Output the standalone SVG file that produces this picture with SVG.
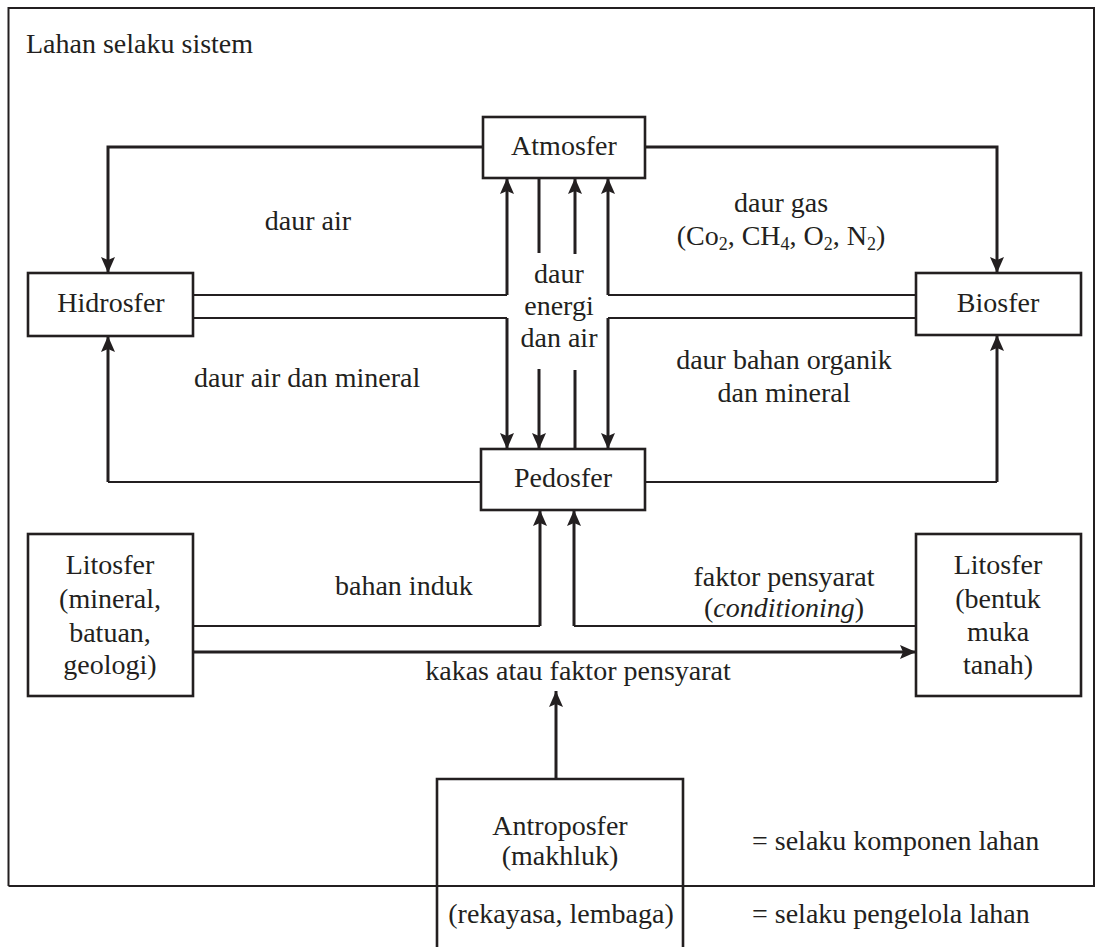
<svg xmlns="http://www.w3.org/2000/svg" width="1096" height="947" viewBox="0 0 1096 947">
<style>
text{font-family:"Liberation Serif","Times New Roman",serif;font-size:28px;fill:#231f20}
.c{text-anchor:middle}
.box{fill:#fff;stroke:#231f20;stroke-width:2.6}
.ln{fill:none;stroke:#231f20;stroke-width:2.2}
.ar{fill:none;stroke:#231f20;stroke-width:3;marker-end:url(#ah)}
</style>
<defs>
<marker id="ah" markerUnits="userSpaceOnUse" markerWidth="16" markerHeight="16" viewBox="0 0 16 14" refX="16" refY="7" orient="auto">
<path d="M0,0 L16,7 L0,14 L3,7 Z" fill="#231f20"/>
</marker>
</defs>
<rect x="0" y="0" width="1096" height="947" fill="#fff"/>
<g id="frame">
<path d="M8.5,886 V8 H1094 V886 H8.5" fill="none" stroke="#231f20" stroke-width="2"/>
<text x="26" y="53">Lahan selaku sistem</text>
</g>
<g id="connectors">
<polyline class="ar" points="483,147 108,147 108,273"/>
<polyline class="ar" points="645,147 997,147 997,273"/>
<polyline class="ln" points="193,295 507,295"/>
<polyline class="ar" points="507,295 507,178"/>
<polyline class="ln" points="193,318 507,318"/>
<polyline class="ar" points="507,318 507,449"/>
<polyline class="ln" points="916,295 608,295"/>
<polyline class="ar" points="608,295 608,178"/>
<polyline class="ln" points="916,318 608,318"/>
<polyline class="ar" points="608,318 608,449"/>
<line class="ln" x1="539" y1="178" x2="539" y2="253" style="stroke-width:3"/>
<polyline class="ar" points="539,369 539,449"/>
<line class="ln" x1="575" y1="449" x2="575" y2="370" style="stroke-width:3"/>
<polyline class="ar" points="575,254 575,178"/>
<polyline class="ln" points="481,482 108,482"/>
<polyline class="ar" points="108,482 108,336"/>
<polyline class="ln" points="645,482 997,482"/>
<polyline class="ar" points="997,482 997,335"/>
<polyline class="ln" points="193,626 540,626"/>
<polyline class="ar" points="540,626 540,510"/>
<polyline class="ln" points="916,626 574,626"/>
<polyline class="ar" points="574,626 574,510"/>
<polyline class="ar" points="193,652 916,652"/>
<polyline class="ar" points="556,779 556,691"/>
</g>
<g id="labels">
<text class="c" x="308" y="230">daur air</text>
<text class="c" x="781" y="212">daur gas</text>
<text class="c" x="781" y="245">(Co<tspan font-size="18" dy="5">2</tspan><tspan dy="-5">, CH</tspan><tspan font-size="18" dy="5">4</tspan><tspan dy="-5">, O</tspan><tspan font-size="18" dy="5">2</tspan><tspan dy="-5">, N</tspan><tspan font-size="18" dy="5">2</tspan><tspan dy="-5">)</tspan></text>
<text class="c" x="559" y="283">daur</text>
<text class="c" x="559" y="315">energi</text>
<text class="c" x="559" y="347">dan air</text>
<text x="194" y="387">daur air dan mineral</text>
<text class="c" x="784" y="369">daur bahan organik</text>
<text class="c" x="784" y="402">dan mineral</text>
<text x="335" y="595">bahan induk</text>
<text class="c" x="784" y="586">faktor pensyarat</text>
<text class="c" x="784" y="617">(<tspan font-style="italic">conditioning</tspan>)</text>
<text class="c" x="578" y="680">kakas atau faktor pensyarat</text>
<text x="752" y="850">= selaku komponen lahan</text>
<text x="752" y="923">= selaku pengelola lahan</text>
</g>
<g id="atmosfer">
<rect class="box" x="483" y="117" width="162" height="61"/>
<text class="c" x="564" y="155">Atmosfer</text>
</g>
<g id="hidrosfer">
<rect class="box" x="28" y="273" width="165" height="63"/>
<text class="c" x="111" y="312">Hidrosfer</text>
</g>
<g id="biosfer">
<rect class="box" x="916" y="273" width="165" height="62"/>
<text class="c" x="998" y="312">Biosfer</text>
</g>
<g id="pedosfer">
<rect class="box" x="481" y="449" width="164" height="61"/>
<text class="c" x="563" y="487">Pedosfer</text>
</g>
<g id="litosfer-kiri">
<rect class="box" x="28" y="534" width="165" height="162"/>
<text class="c" x="110" y="574">Litosfer</text>
<text class="c" x="110" y="608">(mineral,</text>
<text class="c" x="110" y="642">batuan,</text>
<text class="c" x="110" y="674">geologi)</text>
</g>
<g id="litosfer-kanan">
<rect class="box" x="916" y="534" width="165" height="162"/>
<text class="c" x="998" y="574">Litosfer</text>
<text class="c" x="998" y="608">(bentuk</text>
<text class="c" x="998" y="641">muka</text>
<text class="c" x="998" y="674">tanah)</text>
</g>
<g id="antroposfer">
<path d="M437,947 V779 H683 V947" fill="#fff" stroke="#231f20" stroke-width="2.6"/>
<line x1="437" y1="886" x2="683" y2="886" stroke="#231f20" stroke-width="2.2"/>
<text class="c" x="560" y="835">Antroposfer</text>
<text class="c" x="560" y="865">(makhluk)</text>
<text class="c" x="561" y="923">(rekayasa, lembaga)</text>
</g>
</svg>
